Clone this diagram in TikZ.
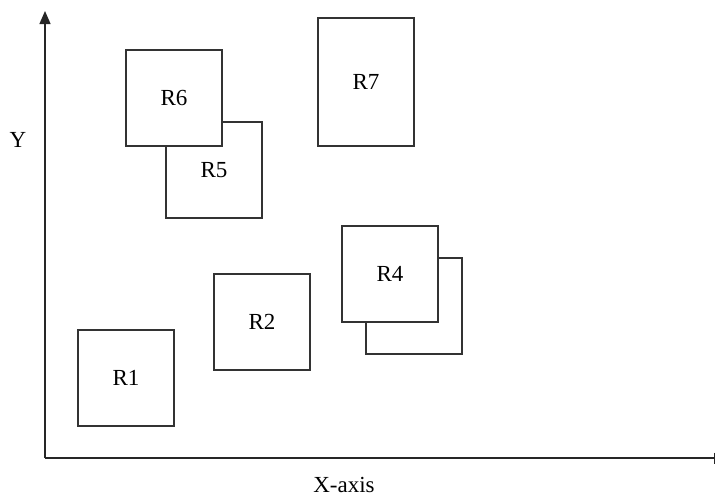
\documentclass[tikz,border=0pt]{standalone}
\usepackage{fontspec}
\setmainfont{Liberation Serif}
\usetikzlibrary{arrows.meta}
\begin{document}
\begin{tikzpicture}[x=1pt,y=-1pt,
  rbox/.style={draw=black!80, line width=1.2pt, fill=white, inner sep=0pt, minimum width=96pt, minimum height=96pt, font=\fontsize{23}{26}\selectfont},
  axis/.style={draw=black!85, line width=1.3pt},
  lbl/.style={font=\fontsize{23}{26}\selectfont, inner sep=0pt}]
\useasboundingbox (0,0) rectangle (716,498);
\coordinate (origin) at (45,458);
\coordinate (ytop) at (45,11);
\coordinate (xend) at (715,458);
\draw[axis, -{Triangle[length=13pt,width=11pt]}] (origin) -- (ytop);
\draw[axis, -{Bar[width=11pt]}] (origin) -- (xend);
\node[lbl] (ylab) at (18,140) {Y};
\node[lbl] (xlab) at (344,485) {X-axis};
% boxes
\node[rbox] (R5) at (214,170) {R5};
\node[rbox] (R6) at (174,98) {R6};
\node[rbox, minimum height=128pt] (R7) at (366,82) {R7};
\node[rbox] (R4b) at (414,306) {};
\node[rbox] (R4) at (390,274) {R4};
\node[rbox] (R2) at (262,322) {R2};
\node[rbox] (R1) at (126,378) {R1};
\end{tikzpicture}
\end{document}
